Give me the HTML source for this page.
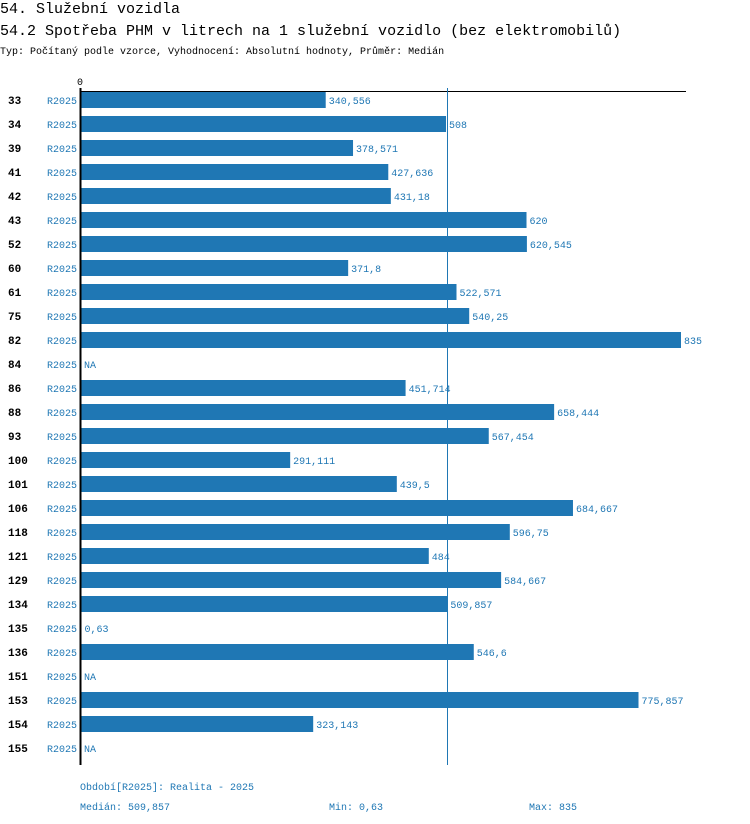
<!DOCTYPE html>
<html><head><meta charset="utf-8"><style>
body{margin:0;background:#fff;width:750px;height:824px;overflow:hidden}
svg{display:block;font-family:"Liberation Mono","DejaVu Sans Mono",monospace}
</style></head><body>
<svg id="c" width="750" height="824">
<text x="0" y="13" font-size="15" fill="#000">54. Služební vozidla</text>
<text x="0" y="35" font-size="15" fill="#000">54.2 Spotřeba PHM v litrech na 1 služební vozidlo (bez elektromobilů)</text>
<text x="0" y="54" font-size="10" fill="#000">Typ: Počítaný podle vzorce, Vyhodnocení: Absolutní hodnoty, Průměr: Medián</text>
<text x="77" y="85" font-size="10" fill="#000">0</text>
<line x1="80" y1="91.5" x2="686" y2="91.5" stroke="#000" stroke-width="1"/>
<g id="bars"></g>
<line x1="80.5" y1="88" x2="80.5" y2="765" stroke="#000" stroke-width="2"/>
<rect id="med" y="88" width="1" height="677" fill="#1f77b4"/>
<text x="80" y="790" font-size="10" fill="#1f77b4">Období[R2025]: Realita - 2025</text>
<text x="80" y="810" font-size="10" fill="#1f77b4">Medián: 509,857</text>
<text x="329" y="810" font-size="10" fill="#1f77b4">Min: 0,63</text>
<text x="529" y="810" font-size="10" fill="#1f77b4">Max: 835</text>
</svg>
<script>
const categories=["33","34","39","41","42","43","52","60","61","75","82","84","86","88","93","100","101","106","118","121","129","134","135","136","151","153","154","155"];
const values=[340.556,508,378.571,427.636,431.18,620,620.545,371.8,522.571,540.25,835,null,451.714,658.444,567.454,291.111,439.5,684.667,596.75,484,584.667,509.857,0.63,546.6,null,775.857,323.143,null];
const median=509.857;
const x0=81,xMax=835,wMax=600;
function xs(v){return x0+v*wMax/xMax;}
function ys(i){return 100+i*24;}
const NS="http://www.w3.org/2000/svg";
const g=document.getElementById('bars');
function mk(t,a){const e=document.createElementNS(NS,t);for(const k in a)e.setAttribute(k,a[k]);return e;}
function fmt(v){return String(v).replace('.',',');}
categories.forEach((c,i)=>{
  const y=ys(i);
  const l=mk('text',{x:8,y:y+4,'font-size':11,'font-weight':'bold',fill:'#000'});
  
  
  l.textContent=c;g.appendChild(l);
  const p=mk('text',{x:47,y:y+4,'font-size':10,fill:'#1f77b4'});
  
  
  p.textContent='R2025';g.appendChild(p);
  const v=values[i];
  let tx=x0+3;
  if(v!==null){
    const r=mk('rect',{x:x0,y:y-8,width:xs(v)-x0,height:16,fill:'#1f77b4'});
    
    
    g.appendChild(r);
    tx=xs(v)+3;
  }
  const vt=mk('text',{x:tx,y:y+4,'font-size':10,fill:'#1f77b4'});
  
  
  vt.textContent=v===null?'NA':fmt(v);g.appendChild(vt);
});
const m=document.getElementById('med');
m.setAttribute('x',Math.round(xs(median)));
</script>
</body></html>
